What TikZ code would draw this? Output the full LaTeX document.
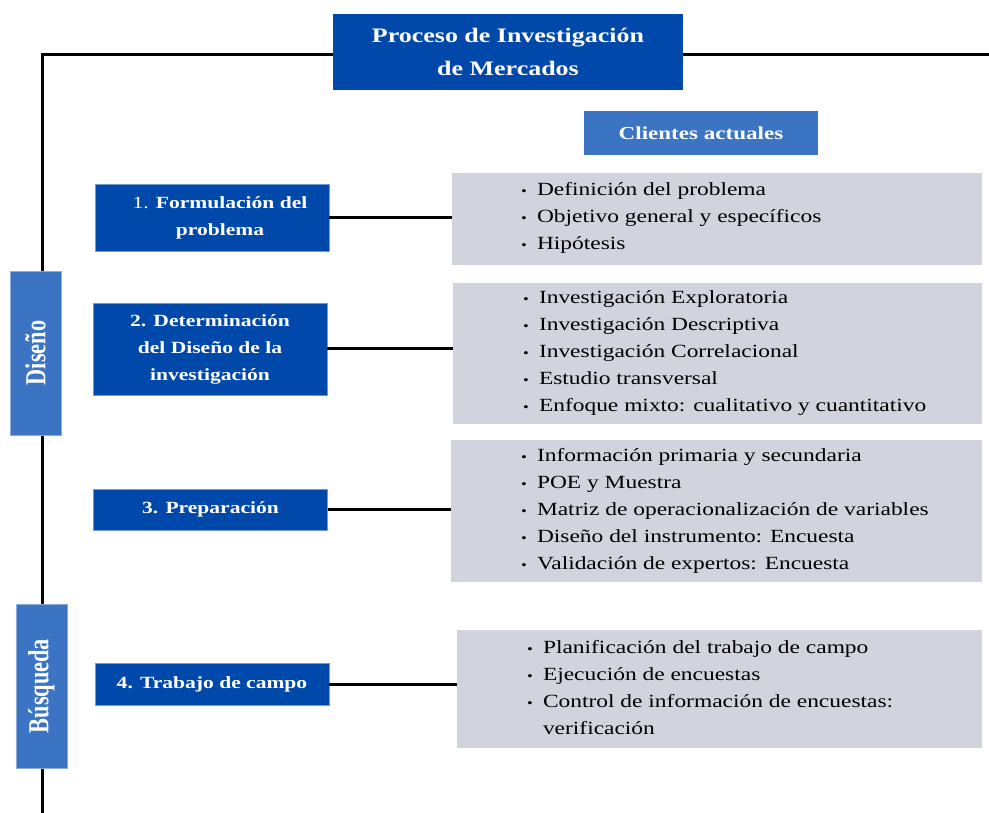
\documentclass[tikz,border=0pt]{standalone}
\usepackage{fontspec}
\setmainfont{Liberation Serif}[FakeStretch=1.26]
\newfontfamily\rotfont{Liberation Serif}[FakeStretch=0.77]
\usetikzlibrary{positioning}

\definecolor{azulosc}{RGB}{0,72,170}
\definecolor{azulmed}{RGB}{58,116,195}
\definecolor{grisbox}{RGB}{209,212,220}

\newcommand{\itm}[1]{\makebox[16pt][l]{\raisebox{0pt}{\fontsize{13}{13}\selectfont\textbullet}}#1}

\tikzset{
  paso/.style={fill=azulosc, draw=azulosc!55!white, line width=0.6pt, text=white,
    font=\fontsize{17.1}{27}\selectfont\bfseries, align=center,
    minimum width=234, inner sep=0pt},
  fase/.style={fill=azulmed, draw=azulmed!60!white, line width=0.6pt, text=white,
    font=\rotfont\fontsize{29}{30}\selectfont\bfseries, rotate=90,
    minimum width=164, minimum height=51, inner sep=0pt},
  detalle/.style={fill=grisbox, inner sep=0pt},
  lista/.style={align=left, font=\fontsize{18.6}{27}\selectfont, inner sep=0pt},
  linea/.style={line width=3pt}
}

\begin{document}
\begin{tikzpicture}[x=1pt,y=-1pt]
    \useasboundingbox (0,0) rectangle (989,813);
    % marco
    \coordinate (esq) at (42,55);
    \coordinate (fin) at (989,55);
    \coordinate (pie) at (42,813);
    \draw[linea] (fin) -- (esq) -- (pie);

    \node[fill=azulosc, text=white, minimum width=350, minimum height=76, align=center,
      font=\fontsize{20.6}{33}\selectfont\bfseries] (titulo) at (508,52) {Proceso de Investigación\\de Mercados};
    \node[fill=azulmed, text=white, minimum width=234, minimum height=44,
      font=\fontsize{18.3}{22}\selectfont\bfseries] (clientes) at (701,133) {Clientes actuales};

    % fases
    \node[fase] (diseno) at (35.5,353) {Diseño};
    \node[fase] (busqueda) at (41.5,686) {Búsqueda};

    % pasos
    \node[paso, minimum height=67] (p1) at (212,217.5) {\hspace*{16pt}{\mdseries 1.} Formulación del\\\hspace*{16pt}problema};
    \node[paso, minimum height=92] (p2) at (210,349) {2. Determinación\\del Diseño de la\\investigación};
    \node[paso, minimum height=41] (p3) at (210.5,509.5) {3. Preparación};
    \node[paso, minimum height=42] (p4) at (212,684) {4. Trabajo de campo};

    % detalles
    \node[detalle, minimum width=530, minimum height=92] (d1) at (717,219) {};
    \node[detalle, minimum width=529, minimum height=141] (d2) at (717.5,353.5) {};
    \node[detalle, minimum width=531, minimum height=142] (d3) at (716.5,511) {};
    \node[detalle, minimum width=525, minimum height=118] (d4) at (719.5,689) {};

    \node[lista, right=69pt of d1.west, yshift=1.5pt] (l1) {\itm{Definición del problema}\\
      \itm{Objetivo general y específicos}\\\itm{Hipótesis}};
    \node[lista, right=70pt of d2.west, yshift=0.5pt] (l2) {\itm{Investigación Exploratoria}\\
      \itm{Investigación Descriptiva}\\\itm{Investigación Correlacional}\\
      \itm{Estudio transversal}\\\itm{Enfoque mixto: cualitativo y cuantitativo}};
    \node[lista, right=70pt of d3.west] (l3) {\itm{Información primaria y secundaria}\\
      \itm{POE y Muestra}\\\itm{Matriz de operacionalización de variables}\\
      \itm{Diseño del instrumento: Encuesta}\\\itm{Validación de expertos: Encuesta}};
    \node[lista, right=70pt of d4.west, yshift=1pt] (l4) {\itm{Planificación del trabajo de campo}\\
      \itm{Ejecución de encuestas}\\\itm{Control de información de encuestas:}\\
      \hspace*{16pt}verificación};

    % conectores
    \draw[linea] (p1.east) -- (p1.east -| d1.west);
    \draw[linea] (p2.east) -- (p2.east -| d2.west);
    \draw[linea] (p3.east) -- (p3.east -| d3.west);
    \draw[linea] (p4.east) -- (p4.east -| d4.west);
\end{tikzpicture}
\end{document}
